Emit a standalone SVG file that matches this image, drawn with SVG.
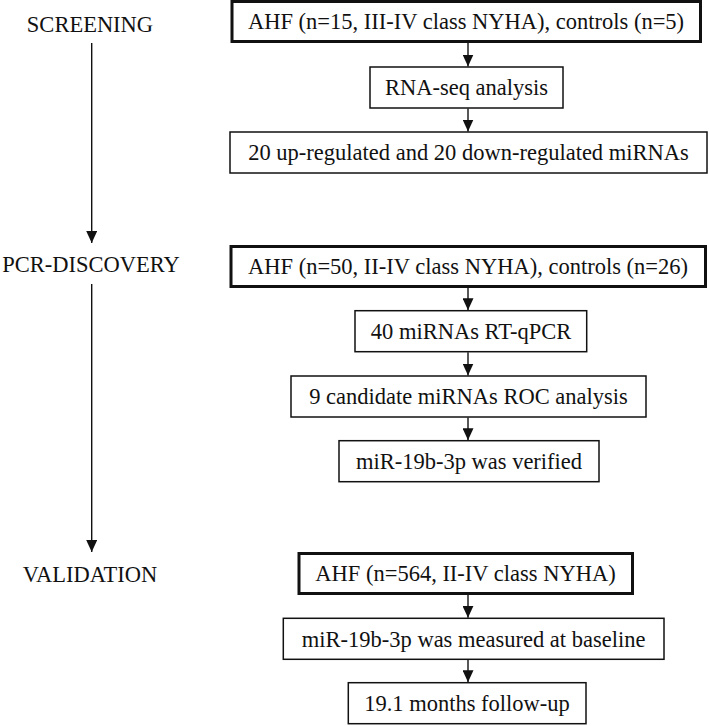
<svg xmlns="http://www.w3.org/2000/svg" width="709" height="726" viewBox="0 0 709 726">
<style>
  .box { fill: #fff; stroke: #111; stroke-width: 1.5; }
  .thick { stroke-width: 3; }
  .conn { stroke: #111; stroke-width: 1.4; fill: none; marker-end: url(#arr); }
</style>
<defs>
  <marker id="arr" markerUnits="userSpaceOnUse" markerWidth="12" markerHeight="11" refX="12" refY="5.5" orient="auto">
    <path d="M0,0 L12,5.5 L0,11 z" fill="#111"/>
  </marker>
</defs>
<rect width="709" height="726" fill="#fff"/>

<g font-family="Liberation Serif, serif" font-size="22.5" fill="#111" text-anchor="middle">
<g id="label-screening"><text x="90" y="32">SCREENING</text></g>
<g id="label-pcr"><text x="91" y="272">PCR-DISCOVERY</text></g>
<g id="label-validation"><text x="90" y="582">VALIDATION</text></g>

<g id="n1"><rect class="box thick" x="232" y="1.5" width="468.5" height="40"/><text x="466" y="29">AHF (n=15, III-IV class NYHA), controls (n=5)</text></g>
<g id="n2"><rect class="box" x="370" y="67" width="193" height="41"/><text x="466.5" y="95">RNA-seq analysis</text></g>
<g id="n3"><rect class="box" x="230" y="132" width="477" height="41"/><text x="468.5" y="160">20 up-regulated and 20 down-regulated miRNAs</text></g>

<g id="n4"><rect class="box thick" x="231" y="246.5" width="474.5" height="40"/><text x="468" y="274">AHF (n=50, II-IV class NYHA), controls (n=26)</text></g>
<g id="n5"><rect class="box" x="355" y="310.7" width="231.7" height="41"/><text x="471" y="339">40 miRNAs RT-qPCR</text></g>
<g id="n6"><rect class="box" x="291" y="376" width="355" height="41"/><text x="468.5" y="404">9 candidate miRNAs ROC analysis</text></g>
<g id="n7"><rect class="box" x="339" y="440.7" width="260" height="41"/><text x="469" y="469">miR-19b-3p was verified</text></g>

<g id="n8"><rect class="box thick" x="299" y="553.5" width="333.5" height="40"/><text x="465.5" y="581">AHF (n=564, II-IV class NYHA)</text></g>
<g id="n9"><rect class="box" x="283.3" y="618.3" width="380.7" height="41"/><text x="473.6" y="646.5">miR-19b-3p was measured at baseline</text></g>
<g id="n10"><rect class="box" x="348.3" y="682.7" width="237.7" height="41"/><text x="467" y="711">19.1 months follow-up</text></g>
</g>

<g id="connectors">
  <line class="conn" x1="91.7" y1="43" x2="91.7" y2="243"/>
  <line class="conn" x1="91.7" y1="284" x2="91.7" y2="552"/>
  <line class="conn" x1="468" y1="43" x2="468" y2="66.5"/>
  <line class="conn" x1="468" y1="108.5" x2="468" y2="131.5"/>
  <line class="conn" x1="468" y1="288" x2="468" y2="310.2"/>
  <line class="conn" x1="468" y1="352.2" x2="468" y2="375.5"/>
  <line class="conn" x1="468" y1="417.5" x2="468" y2="440.2"/>
  <line class="conn" x1="468" y1="595" x2="468" y2="617.8"/>
  <line class="conn" x1="468" y1="659.8" x2="468" y2="682.2"/>
</g>
</svg>
